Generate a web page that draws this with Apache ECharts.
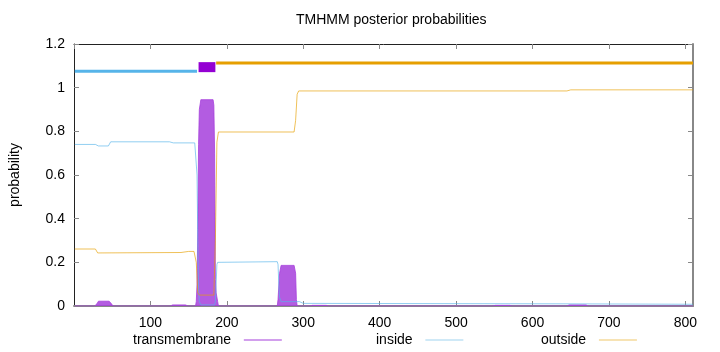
<!DOCTYPE html>
<html>
<head>
<meta charset="utf-8">
<script src="https://cdn.jsdelivr.net/npm/echarts@6/dist/echarts.min.js"></script>
<style>
  html, body { margin: 0; padding: 0; background: #fff; }
  #tmhmm_chart { width: 720px; height: 352px; }
</style>
</head>
<body>
<div id="tmhmm_chart"></div>
<script>
// posterior probabilities, [residue, probability]
var tmProb = [
	[1, 0], [27, 0], [30, 0.01], [32, 0.022], [46, 0.022], [49, 0.01], [51, 0],
	[126, 0], [129, 0.005], [146, 0.005], [149, 0],
	[159, 0], [160, 0.02], [161, 0.1], [162, 0.35], [163, 0.74], [164, 0.9], [166, 0.945],
	[182, 0.945], [183, 0.92], [184, 0.7], [185, 0.12], [186, 0.06], [188, 0.02], [189, 0],
	[266, 0], [267, 0.03], [269, 0.15], [271, 0.186], [288, 0.186], [290, 0.15], [291, 0.03], [292, 0],
	[309, 0], [312, 0.003], [330, 0.003], [333, 0],
	[548, 0], [551, 0.003], [570, 0.003], [573, 0],
	[645, 0], [648, 0.005], [670, 0.005], [673, 0], [810, 0]
];
var insideProb = [
	[1, 0.74], [28, 0.74], [32, 0.733], [45, 0.733], [48, 0.752], [125, 0.752], [130, 0.747],
	[158, 0.747], [160, 0.74], [161, 0.6], [162, 0.3], [163, 0.08], [164, 0.02], [166, 0.005],
	[184, 0.005], [185, 0.02], [186, 0.1], [187, 0.19], [188, 0.2], [190, 0.203],
	[266, 0.203], [267, 0.19], [268, 0.1], [269, 0.04], [271, 0.02], [295, 0.02], [300, 0.012],
	[640, 0.01], [810, 0.008]
];
var outsideProb = [
	[1, 0.261], [28, 0.261], [31, 0.243], [140, 0.245], [150, 0.25], [157, 0.25], [160, 0.2],
	[162, 0.06], [164, 0.05], [183, 0.05], [185, 0.3], [187, 0.75], [189, 0.797],
	[288, 0.797], [290, 0.85], [292, 0.97], [294, 0.985], [645, 0.985], [650, 0.99], [810, 0.99]
];
// predicted topology (start, end) and the level each bar is drawn at
var insideRegions = [[1, 161]];
var tmRegions = [[163, 185]];
var outsideRegions = [[186, 810]];
var insideLevel = 1.075, tmLevel = 1.094, outsideLevel = 1.113;
var seqLength = 810;

var FONT = 'Liberation Sans, Arial, sans-serif';
var C_TM = '#a640dc', C_IN = '#56b4e9', C_OUT = '#e69f00';

function regionSeries(name, regions, level, color, width) {
	var out = [];
	regions.forEach(function (r, i) {
		out.push({
			name: name, type: 'line', silent: true, showSymbol: false, z: 5,
			data: [[r[0], level], [r[1], level]],
			lineStyle: { color: color, width: width, cap: 'butt' }
		});
	});
	return out;
}

var chart = echarts.init(document.getElementById('tmhmm_chart'), null, { renderer: 'canvas' });

function legendFor(name, left) {
	return {
		data: [name], left: left, top: 333, padding: 0,
		align: 'right', icon: 'rect', itemWidth: 38, itemHeight: 1,
		formatter: function (n) { return n + '  '; },
		textStyle: { fontFamily: FONT, fontSize: 14, color: '#000' }
	};
}

var axisTick = { show: true, inside: true, length: 5, lineStyle: { color: '#888' } };

var option = {
	animation: false,
	title: {
		text: 'TMHMM posterior probabilities',
		left: 291, top: 8,
		textStyle: { fontFamily: FONT, fontSize: 14, fontWeight: 'normal', color: '#000' }
	},
	legend: [
		legendFor('transmembrane', 133),
		legendFor('inside', 376),
		legendFor('outside', 541)
	],
	grid: { left: 73, right: 27, top: 44, bottom: 46 },
	xAxis: [{
		type: 'value', min: 0, max: seqLength, interval: 100, position: 'bottom',
		axisLine: { show: true, onZero: false, lineStyle: { color: '#888', width: 2 } },
		axisTick: axisTick,
		axisLabel: { showMinLabel: false, showMaxLabel: false, margin: 10, fontFamily: FONT, fontSize: 14, color: '#000' },
		splitLine: { show: false }
	}, {
		type: 'value', min: 0, max: seqLength, interval: 100, position: 'top',
		axisLine: { show: true, onZero: false, lineStyle: { color: '#222', width: 1 } },
		axisTick: axisTick,
		axisLabel: { show: false },
		splitLine: { show: false }
	}],
	yAxis: [{
		type: 'value', min: 0, max: 1.2, interval: 0.2, position: 'left',
		name: 'probability', nameLocation: 'middle', nameGap: 52, nameRotate: 90,
		nameTextStyle: { fontFamily: FONT, fontSize: 14, color: '#000' },
		axisLine: { show: true, onZero: false, lineStyle: { color: '#222', width: 1 } },
		axisTick: axisTick,
		axisLabel: { margin: 9, fontFamily: FONT, fontSize: 14, color: '#000' },
		splitLine: { show: false }
	}, {
		type: 'value', min: 0, max: 1.2, interval: 0.2, position: 'right',
		axisLine: { show: true, onZero: false, lineStyle: { color: '#888', width: 2 } },
		axisTick: axisTick,
		axisLabel: { show: false },
		splitLine: { show: false }
	}],
	series: [{
		name: 'transmembrane', type: 'line', showSymbol: false, z: 2,
		color: C_TM,
		data: tmProb,
		lineStyle: { color: C_TM, width: 1, opacity: 0.8 },
		areaStyle: { color: C_TM, opacity: 0.85 }
	}, {
		name: 'inside', type: 'line', showSymbol: false, z: 3,
		color: '#9fd3f0',
		data: insideProb,
		lineStyle: { color: C_IN, width: 1, opacity: 0.65 }
	}, {
		name: 'outside', type: 'line', showSymbol: false, z: 3,
		color: '#f0c86a',
		data: outsideProb,
		lineStyle: { color: C_OUT, width: 1, opacity: 0.65 }
	}]
	.concat(regionSeries('inside region', insideRegions, insideLevel, C_IN, 3))
	.concat(regionSeries('tm region', tmRegions, tmLevel, '#9400d3', 10))
	.concat(regionSeries('outside region', outsideRegions, outsideLevel, C_OUT, 3))
};
chart.setOption(option);
</script>
</body>
</html>
